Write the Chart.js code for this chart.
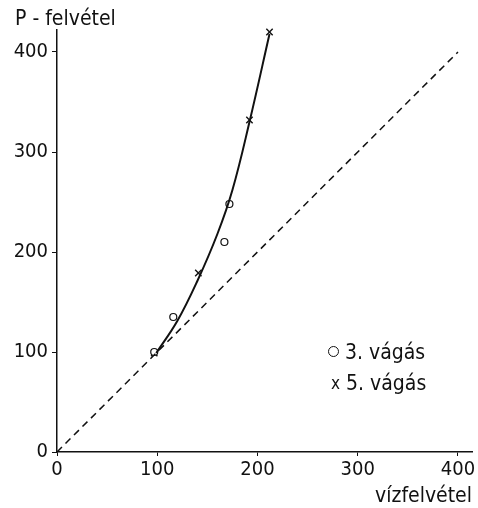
<!DOCTYPE html>
<html>
<head>
<meta charset="utf-8">
<script src="https://cdn.jsdelivr.net/npm/chart.js@4"></script>
<style>
  html, body { margin: 0; padding: 0; background: #fff; }
  #wrap { position: relative; width: 478px; height: 508px; font-family: "DejaVu Sans Condensed", "Liberation Sans Narrow", sans-serif; color: #111; }
  canvas { position: absolute; left: 0; top: 0; }
  .lbl { position: absolute; white-space: nowrap; font-size: 21px; line-height: 1; }
  .mk-circle { display: inline-block; width: 9px; height: 9px; border: 1.3px solid #111; border-radius: 50%; vertical-align: middle; margin-right: 6px; position: relative; top: -2px; }
  .mk-x { display: inline-block; font-size: 17px; margin-right: 6px; position: relative; top: -1px; }
</style>
</head>
<body>
<div id="wrap">
  <canvas id="c" width="478" height="508"></canvas>
  <div class="lbl" style="left:15px; top:8px;">P - felvétel</div>
  <div class="lbl" style="right:6px; top:485px;">vízfelvétel</div>
  <div class="lbl" style="left:328px; top:342px;"><span class="mk-circle"></span>3. vágás</div>
  <div class="lbl" style="left:331px; top:373px;"><span class="mk-x">x</span>5. vágás</div>
</div>
<script>
// ---- data ----
const xTickValues = [0, 100, 200, 300, 400];
const yTickValues = [0, 100, 200, 300, 400];

const cut3X = [97, 116, 167, 172];       // "3. vágás" (circles)
const cut3Y = [100, 135, 210, 248];

const cut5X = [97, 141, 192, 212];       // "5. vágás" (crosses)
const cut5Y = [99, 179, 332, 420];

const curveX = [99, 120, 140, 160, 175, 192, 212];
const curveY = [99, 131, 171, 218, 262, 330, 418];

const diagX = [0, 400];                  // 1:1 reference line
const diagY = [0, 400];

const seriesNames = ["3. vágás", "5. vágás"];

const pts = (xs, ys) => xs.map((x, i) => ({ x: x, y: ys[i] }));
const INK = "#111";
const tickFont = { family: "'DejaVu Sans Condensed', 'Liberation Sans Narrow', sans-serif", size: 20 };

new Chart(document.getElementById("c"), {
  type: "scatter",
  data: {
    datasets: [
      {
        label: "diag",
        data: pts(diagX, diagY),
        showLine: true,
        borderColor: INK,
        borderWidth: 1.5,
        borderDash: [7, 5],
        pointRadius: 0,
        clip: false
      },
      {
        label: "curve",
        data: pts(curveX, curveY),
        showLine: true,
        borderColor: INK,
        borderWidth: 2,
        tension: 0.4,
        pointRadius: 0,
        clip: false
      },
      {
        label: seriesNames[0],
        data: pts(cut3X, cut3Y),
        pointStyle: "circle",
        pointRadius: 3.5,
        pointBorderWidth: 1.2,
        pointBorderColor: INK,
        pointBackgroundColor: "#fff",
        clip: false
      },
      {
        label: seriesNames[1],
        data: pts(cut5X, cut5Y),
        pointStyle: "crossRot",
        pointRadius: 4.5,
        pointBorderWidth: 1.4,
        pointBorderColor: INK,
        clip: false
      }
    ]
  },
  options: {
    responsive: false,
    animation: false,
    layout: { padding: { top: 30, right: 6, left: 0, bottom: 0 } },
    plugins: { legend: { display: false }, tooltip: { enabled: false }, title: { display: false } },
    scales: {
      x: {
        type: "linear",
        min: 0,
        max: 414,
        afterBuildTicks: s => { s.ticks = xTickValues.map(v => ({ value: v })); },
        afterFit: s => { s.height = 56; },
        border: { display: true, color: INK, width: 1.5 },
        grid: { display: true, drawOnChartArea: false, drawTicks: true, tickLength: 4, color: INK, lineWidth: 1 },
        ticks: { color: INK, font: tickFont, padding: 2, maxRotation: 0 }
      },
      y: {
        type: "linear",
        min: 0,
        max: 422,
        afterBuildTicks: s => { s.ticks = yTickValues.map(v => ({ value: v })); },
        afterFit: s => { s.width = 57; },
        border: { display: true, color: INK, width: 1.5 },
        grid: { display: true, drawOnChartArea: false, drawTicks: true, tickLength: 5, color: INK, lineWidth: 1 },
        ticks: { color: INK, font: tickFont, padding: 4 }
      }
    }
  }
});
</script>
</body>
</html>
